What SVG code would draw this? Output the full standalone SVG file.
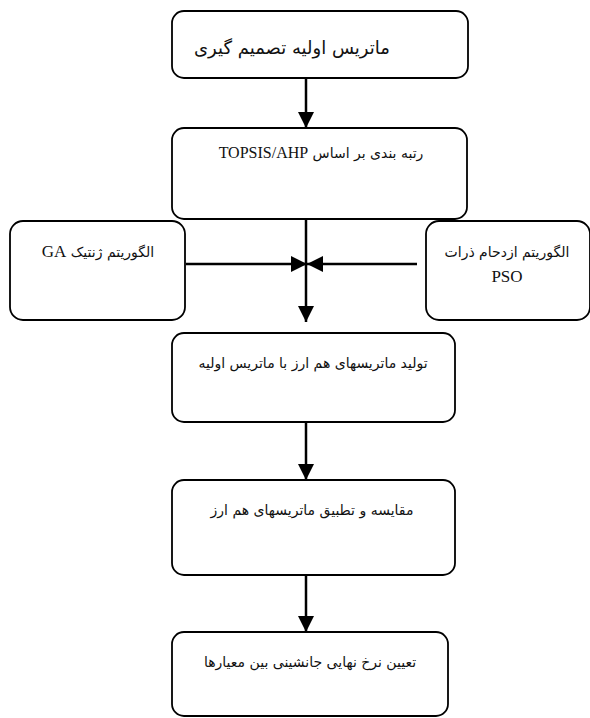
<svg xmlns="http://www.w3.org/2000/svg" width="590" height="718" viewBox="0 0 590 718">
<defs>
<style>
.box{fill:#fff;stroke:#000;stroke-width:1.8}
.t{font-family:"DejaVu Sans","Noto Sans",sans-serif;fill:#111;text-anchor:middle;direction:rtl;unicode-bidi:embed}
.lat{font-family:"Liberation Serif",serif}
.ln{stroke:#000;stroke-width:2.5;fill:none}
</style>
<marker id="ah" viewBox="0 0 16 16" refX="16" refY="8" markerWidth="16" markerHeight="16" markerUnits="userSpaceOnUse" orient="auto">
<path d="M0,0 L16,8 L0,16 Z" fill="#000"/>
</marker>
</defs>
<rect width="590" height="718" fill="#fff"/>
<g id="connectors">
<line class="ln" x1="306" y1="78" x2="306" y2="128" marker-end="url(#ah)"/>
<line class="ln" x1="306" y1="219" x2="306" y2="322" marker-end="url(#ah)"/>
<line class="ln" x1="186" y1="264" x2="307" y2="264" marker-end="url(#ah)"/>
<line class="ln" x1="417" y1="264" x2="307" y2="264" marker-end="url(#ah)"/>
<line class="ln" x1="306" y1="422" x2="306" y2="480" marker-end="url(#ah)"/>
<line class="ln" x1="306" y1="575" x2="306" y2="632" marker-end="url(#ah)"/>
</g>
<g id="n1">
<rect class="box" x="172" y="11" width="296" height="67" rx="12"/>
<text class="t" x="292" y="54" font-size="18">ماتریس اولیه تصمیم گیری</text>
</g>
<g id="n2">
<rect class="box" x="172" y="128" width="295" height="91" rx="12"/>
<text class="t" x="321" y="158" font-size="14">رتبه بندی بر اساس <tspan class="lat" font-size="16">TOPSIS/AHP</tspan></text>
</g>
<g id="ga">
<rect class="box" x="10" y="221" width="175" height="99" rx="13"/>
<text class="t" x="98" y="257" font-size="14">الگوریتم ژنتیک <tspan class="lat" font-size="17">GA</tspan></text>
</g>
<g id="pso">
<rect class="box" x="426" y="221" width="164" height="99" rx="13"/>
<text class="t" x="507" y="257" font-size="14">الگوریتم ازدحام ذرات</text>
<text class="t lat" x="507" y="282" font-size="17">PSO</text>
</g>
<g id="n3">
<rect class="box" x="172" y="333" width="283" height="89" rx="12"/>
<text class="t" x="313" y="368" font-size="14">تولید ماتریسهای هم ارز با ماتریس اولیه</text>
</g>
<g id="n4">
<rect class="box" x="172" y="480" width="283" height="95" rx="12"/>
<text class="t" x="312" y="515" font-size="14">مقایسه و تطبیق ماتریسهای هم ارز</text>
</g>
<g id="n5">
<rect class="box" x="172" y="632" width="276" height="84" rx="12"/>
<text class="t" x="310" y="667" font-size="14">تعیین نرخ نهایی جانشینی بین معیارها</text>
</g>
</svg>
